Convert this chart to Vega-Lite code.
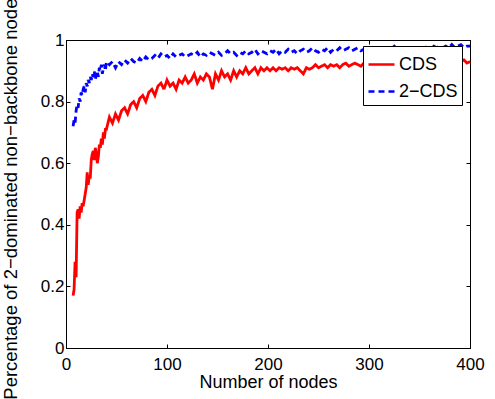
{
  "$schema": "https://vega.github.io/schema/vega-lite/v6.json",
  "width": 404,
  "height": 308,
  "autosize": {"type": "none"},
  "padding": {"left": 66, "top": 40, "right": 25, "bottom": 51},
  "background": "white",
  "config": {
    "font": "Liberation Sans",
    "view": {"stroke": "black", "strokeWidth": 1},
    "axis": {"grid": false, "domainColor": "black", "tickColor": "black", "labelColor": "black", "titleColor": "black", "labelFont": "Liberation Sans", "titleFont": "Liberation Sans", "labelFontSize": 17, "titleFontSize": 18, "titleFontWeight": "normal", "tickSize": -4, "domainWidth": 1, "tickWidth": 1}
  },
  "data": {"values": [
    {"n":7,"CDS":0.17,"2-CDS":0.72},{"n":8,"CDS":0.19,"2-CDS":0.74},{"n":9,"CDS":0.28,"2-CDS":0.73},{"n":10,"CDS":0.23,"2-CDS":0.77},
    {"n":11,"CDS":0.44,"2-CDS":0.79},{"n":12,"CDS":0.45,"2-CDS":0.78},{"n":13,"CDS":0.42,"2-CDS":0.81},{"n":14,"CDS":0.46,"2-CDS":0.8},
    {"n":15,"CDS":0.44,"2-CDS":0.83},{"n":16,"CDS":0.47,"2-CDS":0.82},{"n":17,"CDS":0.46,"2-CDS":0.84},{"n":18,"CDS":0.48,"2-CDS":0.85},
    {"n":19,"CDS":0.5,"2-CDS":0.83},{"n":20,"CDS":0.52,"2-CDS":0.86},{"n":21,"CDS":0.57,"2-CDS":0.85},{"n":22,"CDS":0.53,"2-CDS":0.87},
    {"n":23,"CDS":0.56,"2-CDS":0.86},{"n":24,"CDS":0.55,"2-CDS":0.88},{"n":25,"CDS":0.61,"2-CDS":0.87},{"n":26,"CDS":0.63,"2-CDS":0.89},
    {"n":27,"CDS":0.64,"2-CDS":0.88},{"n":28,"CDS":0.61,"2-CDS":0.9},{"n":29,"CDS":0.65,"2-CDS":0.87},{"n":30,"CDS":0.63,"2-CDS":0.89},
    {"n":31,"CDS":0.6,"2-CDS":0.9},{"n":32,"CDS":0.62,"2-CDS":0.88},{"n":33,"CDS":0.66,"2-CDS":0.91},{"n":34,"CDS":0.65,"2-CDS":0.9},
    {"n":35,"CDS":0.68,"2-CDS":0.92},{"n":36,"CDS":0.66,"2-CDS":0.89},{"n":37,"CDS":0.7,"2-CDS":0.91},{"n":38,"CDS":0.68,"2-CDS":0.92},
    {"n":39,"CDS":0.71,"2-CDS":0.9},
    {"n":40,"CDS":0.71,"2-CDS":0.93},{"n":43,"CDS":0.75,"2-CDS":0.92},{"n":46,"CDS":0.73,"2-CDS":0.93},{"n":49,"CDS":0.76,"2-CDS":0.91},
    {"n":52,"CDS":0.74,"2-CDS":0.93},{"n":55,"CDS":0.77,"2-CDS":0.92},{"n":58,"CDS":0.78,"2-CDS":0.935},{"n":61,"CDS":0.76,"2-CDS":0.925},
    {"n":64,"CDS":0.79,"2-CDS":0.94},{"n":67,"CDS":0.8,"2-CDS":0.93},{"n":70,"CDS":0.78,"2-CDS":0.925},{"n":73,"CDS":0.81,"2-CDS":0.94},
    {"n":76,"CDS":0.82,"2-CDS":0.93},{"n":79,"CDS":0.8,"2-CDS":0.945},{"n":82,"CDS":0.83,"2-CDS":0.935},{"n":85,"CDS":0.84,"2-CDS":0.94},
    {"n":88,"CDS":0.82,"2-CDS":0.95},{"n":91,"CDS":0.85,"2-CDS":0.94},{"n":94,"CDS":0.86,"2-CDS":0.955},{"n":97,"CDS":0.84,"2-CDS":0.945},
    {"n":100,"CDS":0.87,"2-CDS":0.95},{"n":103,"CDS":0.85,"2-CDS":0.94},{"n":106,"CDS":0.86,"2-CDS":0.955},{"n":109,"CDS":0.84,"2-CDS":0.945},
    {"n":112,"CDS":0.87,"2-CDS":0.95},{"n":115,"CDS":0.86,"2-CDS":0.955},{"n":118,"CDS":0.88,"2-CDS":0.945},{"n":121,"CDS":0.86,"2-CDS":0.95},
    {"n":124,"CDS":0.87,"2-CDS":0.955},{"n":127,"CDS":0.89,"2-CDS":0.95},{"n":130,"CDS":0.86,"2-CDS":0.96},{"n":133,"CDS":0.88,"2-CDS":0.945},
    {"n":136,"CDS":0.87,"2-CDS":0.955},{"n":139,"CDS":0.89,"2-CDS":0.95},{"n":142,"CDS":0.88,"2-CDS":0.96},{"n":145,"CDS":0.84,"2-CDS":0.955},
    {"n":148,"CDS":0.89,"2-CDS":0.95},{"n":151,"CDS":0.87,"2-CDS":0.96},{"n":154,"CDS":0.9,"2-CDS":0.95},{"n":157,"CDS":0.88,"2-CDS":0.955},
    {"n":160,"CDS":0.89,"2-CDS":0.965},{"n":163,"CDS":0.87,"2-CDS":0.955},{"n":166,"CDS":0.9,"2-CDS":0.96},{"n":169,"CDS":0.88,"2-CDS":0.95},
    {"n":172,"CDS":0.9,"2-CDS":0.96},{"n":175,"CDS":0.89,"2-CDS":0.955},{"n":178,"CDS":0.91,"2-CDS":0.965},{"n":181,"CDS":0.89,"2-CDS":0.955},
    {"n":184,"CDS":0.9,"2-CDS":0.96},{"n":187,"CDS":0.91,"2-CDS":0.97},{"n":190,"CDS":0.89,"2-CDS":0.955},{"n":193,"CDS":0.91,"2-CDS":0.965},
    {"n":196,"CDS":0.9,"2-CDS":0.96},{"n":199,"CDS":0.91,"2-CDS":0.955},{"n":202,"CDS":0.9,"2-CDS":0.965},{"n":205,"CDS":0.91,"2-CDS":0.96},
    {"n":208,"CDS":0.9,"2-CDS":0.97},{"n":211,"CDS":0.91,"2-CDS":0.955},{"n":214,"CDS":0.905,"2-CDS":0.965},{"n":217,"CDS":0.91,"2-CDS":0.96},
    {"n":220,"CDS":0.9,"2-CDS":0.97},{"n":223,"CDS":0.91,"2-CDS":0.96},{"n":226,"CDS":0.905,"2-CDS":0.965},{"n":229,"CDS":0.91,"2-CDS":0.955},
    {"n":232,"CDS":0.9,"2-CDS":0.965},{"n":235,"CDS":0.89,"2-CDS":0.97},{"n":238,"CDS":0.91,"2-CDS":0.96},{"n":241,"CDS":0.905,"2-CDS":0.965},
    {"n":244,"CDS":0.91,"2-CDS":0.975},{"n":247,"CDS":0.92,"2-CDS":0.965},{"n":250,"CDS":0.91,"2-CDS":0.96},{"n":253,"CDS":0.915,"2-CDS":0.97},
    {"n":256,"CDS":0.92,"2-CDS":0.965},{"n":259,"CDS":0.91,"2-CDS":0.975},{"n":262,"CDS":0.92,"2-CDS":0.96},{"n":265,"CDS":0.915,"2-CDS":0.97},
    {"n":268,"CDS":0.92,"2-CDS":0.965},{"n":271,"CDS":0.91,"2-CDS":0.975},{"n":274,"CDS":0.92,"2-CDS":0.965},{"n":277,"CDS":0.925,"2-CDS":0.97},
    {"n":280,"CDS":0.915,"2-CDS":0.975},{"n":283,"CDS":0.92,"2-CDS":0.965},{"n":286,"CDS":0.925,"2-CDS":0.97},{"n":289,"CDS":0.92,"2-CDS":0.975},
    {"n":292,"CDS":0.915,"2-CDS":0.965},{"n":295,"CDS":0.925,"2-CDS":0.97},{"n":298,"CDS":0.92,"2-CDS":0.975},{"n":301,"CDS":0.93,"2-CDS":0.97},
    {"n":304,"CDS":0.92,"2-CDS":0.965},{"n":307,"CDS":0.925,"2-CDS":0.975},{"n":310,"CDS":0.915,"2-CDS":0.97},{"n":313,"CDS":0.925,"2-CDS":0.975},
    {"n":316,"CDS":0.92,"2-CDS":0.965},{"n":319,"CDS":0.93,"2-CDS":0.975},{"n":322,"CDS":0.92,"2-CDS":0.97},{"n":325,"CDS":0.925,"2-CDS":0.98},
    {"n":328,"CDS":0.93,"2-CDS":0.97},{"n":331,"CDS":0.92,"2-CDS":0.975},{"n":334,"CDS":0.925,"2-CDS":0.97},{"n":337,"CDS":0.93,"2-CDS":0.98},
    {"n":340,"CDS":0.92,"2-CDS":0.97},{"n":343,"CDS":0.925,"2-CDS":0.975},{"n":346,"CDS":0.93,"2-CDS":0.98},{"n":349,"CDS":0.92,"2-CDS":0.97},
    {"n":352,"CDS":0.93,"2-CDS":0.975},{"n":355,"CDS":0.925,"2-CDS":0.98},{"n":358,"CDS":0.93,"2-CDS":0.97},{"n":361,"CDS":0.92,"2-CDS":0.975},
    {"n":364,"CDS":0.93,"2-CDS":0.98},{"n":367,"CDS":0.925,"2-CDS":0.975},{"n":370,"CDS":0.935,"2-CDS":0.98},{"n":373,"CDS":0.925,"2-CDS":0.975},
    {"n":376,"CDS":0.93,"2-CDS":0.98},{"n":379,"CDS":0.92,"2-CDS":0.975},{"n":382,"CDS":0.93,"2-CDS":0.985},{"n":385,"CDS":0.935,"2-CDS":0.975},
    {"n":388,"CDS":0.925,"2-CDS":0.98},{"n":391,"CDS":0.93,"2-CDS":0.985},{"n":394,"CDS":0.935,"2-CDS":0.975},{"n":397,"CDS":0.925,"2-CDS":0.98},
    {"n":400,"CDS":0.93,"2-CDS":0.98}
  ]},
  "transform": [{"fold": ["CDS", "2-CDS"], "as": ["s", "v"]}],
  "resolve": {"axis": {"x": "independent", "y": "independent"}},
  "layer": [
    {
      "mark": {"type": "line", "strokeWidth": 2.8},
      "encoding": {
        "x": {"field": "n", "type": "quantitative", "scale": {"domain": [0, 400], "nice": false},
          "axis": {"orient": "bottom", "values": [0, 100, 200, 300, 400], "title": "Number of nodes", "labelPadding": 12, "titlePadding": 1, "labelFlush": false}},
        "y": {"field": "v", "type": "quantitative", "scale": {"domain": [0, 1], "nice": false},
          "axis": {"orient": "left", "values": [0, 0.2, 0.4, 0.6, 0.8, 1], "format": ".1~f", "title": "Percentage of 2−dominated non−backbone nodes", "titleFontSize": 18.5, "labelPadding": 6, "titlePadding": 20, "labelFlush": false}},
        "color": {"field": "s", "type": "nominal", "scale": {"domain": ["CDS", "2-CDS"], "range": ["#ff0000", "#0000ff"]},
          "legend": {"orient": "none", "legendX": 297, "legendY": 6, "direction": "vertical", "title": null, "strokeColor": "black", "fillColor": "white", "padding": 4, "labelFontSize": 18, "labelFont": "Liberation Sans", "labelColor": "black", "symbolType": "stroke", "symbolSize": 676, "symbolStrokeWidth": 2.5, "labelOffset": 3, "rowPadding": 3, "labelExpr": "datum.label == '2-CDS' ? '2−CDS' : datum.label"}},
        "strokeDash": {"field": "s", "type": "nominal", "scale": {"domain": ["CDS", "2-CDS"], "range": [[1, 0], [6, 4]]},
          "legend": {"orient": "none", "legendX": 297, "legendY": 6, "direction": "vertical", "title": null, "strokeColor": "black", "fillColor": "white", "padding": 4, "labelFontSize": 18, "labelFont": "Liberation Sans", "labelColor": "black", "symbolType": "stroke", "symbolSize": 676, "symbolStrokeWidth": 2.5, "labelOffset": 3, "rowPadding": 3, "labelExpr": "datum.label == '2-CDS' ? '2−CDS' : datum.label"}}
      }
    },
    {
      "mark": {"type": "point", "opacity": 0},
      "encoding": {
        "x": {"field": "n", "type": "quantitative", "axis": {"orient": "top", "values": [0, 100, 200, 300, 400], "labels": false, "title": null}},
        "y": {"field": "v", "type": "quantitative", "axis": {"orient": "right", "values": [0, 0.2, 0.4, 0.6, 0.8, 1], "labels": false, "title": null}}
      }
    }
  ]
}
